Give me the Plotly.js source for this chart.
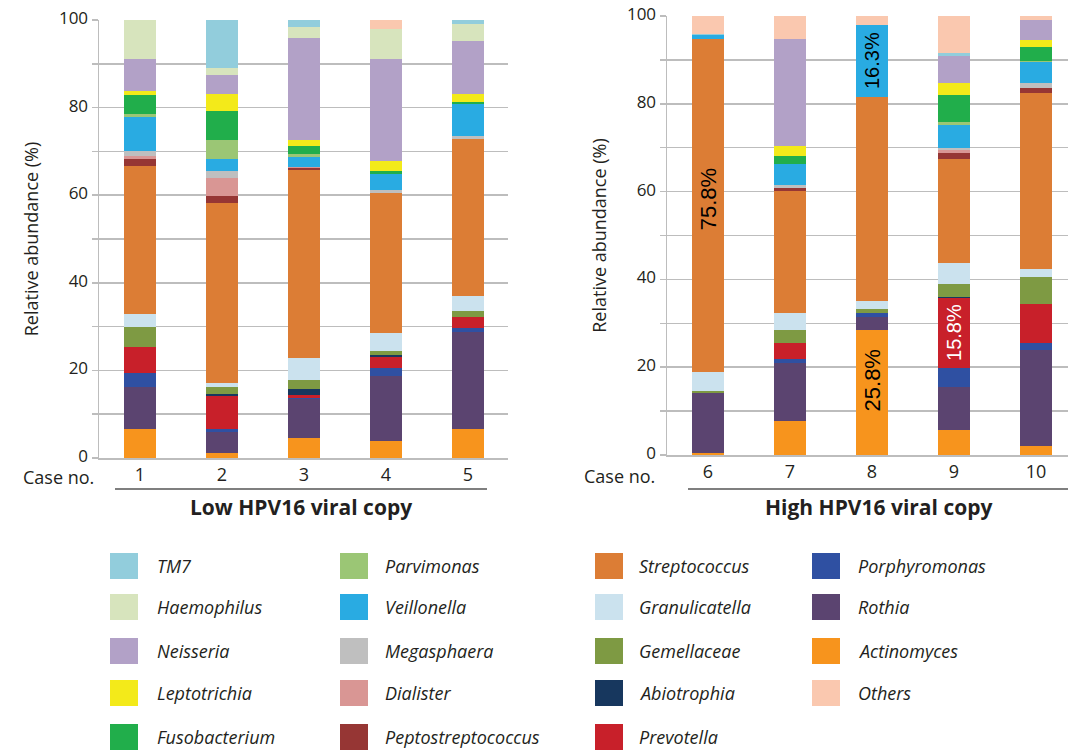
<!DOCTYPE html>
<html><head><meta charset="utf-8">
<script src="https://cdn.plot.ly/plotly-3.0.1.min.js"></script>
<style>html,body{margin:0;padding:0;background:#fff}#chart{width:1068px;height:752px}</style>
</head><body><div id="chart"></div>
<script>
// ---------- DATA (relative abundance %, cases 1..10) ----------
const cases = [1, 2, 3, 4, 5, 6, 7, 8, 9, 10];
const caseLabels = ['1', '2', '3', '4', '5', '6', '7', '8', '9', '10'];
const groupLabels = ['Low HPV16 viral copy', 'High HPV16 viral copy'];

// stacked from bottom to top
const Actinomyces        = [6.6, 1.2, 4.5, 3.9, 6.6, 0.5, 7.8, 28.5, 5.8, 2.0];
const Rothia             = [9.5, 4.7, 8.9, 14.9, 22.2, 13.6, 13.1, 3.0, 9.7, 21.9];
const Porphyromonas      = [3.2, 0.8, 0.4, 1.7, 0.8, 0, 1.0, 0.8, 4.4, 1.6];
const Prevotella         = [6.1, 7.5, 0.6, 2.5, 2.5, 0, 3.6, 0, 15.8, 8.9];
const Abiotrophia        = [0, 0.5, 1.4, 0.6, 0, 0, 0, 0, 0.4, 0];
const Gemellaceae        = [4.6, 1.6, 2.0, 0.9, 1.5, 0.5, 2.9, 0.9, 2.9, 6.1];
const Granulicatella     = [2.8, 0.9, 5.0, 4.0, 3.5, 4.4, 4.0, 1.9, 4.7, 1.8];
const Streptococcus      = [33.9, 41.1, 43.0, 32.1, 35.7, 75.8, 27.8, 46.5, 23.7, 40.2];
const Peptostreptococcus = [1.6, 1.6, 0.3, 0, 0, 0, 0.6, 0, 1.5, 1.2];
const Dialister          = [0.6, 4.0, 0.3, 0, 0, 0, 0, 0, 0.5, 0];
const Megasphaera        = [1.3, 1.7, 0, 0.6, 0.7, 0, 0.8, 0, 0.6, 1.0];
const Veillonella        = [7.7, 2.7, 2.3, 3.7, 7.3, 0.8, 4.6, 16.3, 5.1, 4.8];
const Parvimonas         = [0.6, 4.2, 0.7, 0, 0, 0, 0, 0, 0.7, 0.3];
const Fusobacterium      = [4.3, 6.8, 1.9, 0.6, 0.4, 0, 2.0, 0, 6.3, 3.2];
const Leptotrichia       = [1.1, 3.7, 1.3, 2.3, 1.9, 0, 2.3, 0, 2.6, 1.5];
const Neisseria          = [7.2, 4.4, 23.2, 23.2, 12.0, 0, 24.3, 0, 6.1, 4.5];
const Haemophilus        = [8.9, 1.7, 2.6, 7.0, 4.0, 0, 0, 0, 0, 0];
const TM7                = [0, 10.9, 1.6, 0, 0.9, 0.3, 0, 0, 0.8, 0];
const Others             = [0, 0, 0, 2.0, 0, 4.1, 5.2, 2.1, 8.4, 1.0];

const taxaNames = ['Actinomyces', 'Rothia', 'Porphyromonas', 'Prevotella', 'Abiotrophia',
  'Gemellaceae', 'Granulicatella', 'Streptococcus', 'Peptostreptococcus', 'Dialister',
  'Megasphaera', 'Veillonella', 'Parvimonas', 'Fusobacterium', 'Leptotrichia',
  'Neisseria', 'Haemophilus', 'TM7', 'Others'];
const taxaValues = [Actinomyces, Rothia, Porphyromonas, Prevotella, Abiotrophia,
  Gemellaceae, Granulicatella, Streptococcus, Peptostreptococcus, Dialister,
  Megasphaera, Veillonella, Parvimonas, Fusobacterium, Leptotrichia,
  Neisseria, Haemophilus, TM7, Others];

// highlighted value labels: [taxon, case, text]
const valueLabels = [
  ['Streptococcus', 6, '75.8%'],
  ['Veillonella', 8, '16.3%'],
  ['Actinomyces', 8, '25.8%'],
  ['Prevotella', 9, '15.8%']
];

// ---------- STYLE ----------
const colors = {
  TM7: '#92CDDC', Haemophilus: '#D7E4BD', Neisseria: '#B2A1C7', Leptotrichia: '#F3EA1A',
  Fusobacterium: '#21AE4B', Parvimonas: '#9BC675', Veillonella: '#29ABE2',
  Megasphaera: '#BFBFBF', Dialister: '#D99694', Peptostreptococcus: '#963634',
  Streptococcus: '#DC7D35', Granulicatella: '#CBE2EE', Gemellaceae: '#7E9A43',
  Abiotrophia: '#17375E', Prevotella: '#C8202A', Porphyromonas: '#2F50A2',
  Rothia: '#5B4470', Actinomyces: '#F7941D', Others: '#FAC8AF'
};
const legendColumns = [
  ['TM7', 'Haemophilus', 'Neisseria', 'Leptotrichia', 'Fusobacterium'],
  ['Parvimonas', 'Veillonella', 'Megasphaera', 'Dialister', 'Peptostreptococcus'],
  ['Streptococcus', 'Granulicatella', 'Gemellaceae', 'Abiotrophia', 'Prevotella'],
  ['Porphyromonas', 'Rothia', 'Actinomyces', 'Others']
];

const W = 1068, H = 752;
const px = x => x / W, py = y => 1 - y / H;
const GRID = '#BDBDBD', TXT = '#231F20';
const FONT = 'Open Sans, sans-serif';

// ---------- TRACES ----------
const traces = [];
taxaNames.forEach((name, i) => {
  const vals = taxaValues[i];
  [[0, 5, 'x', 'y'], [5, 10, 'x2', 'y2']].forEach(([a, b, xa, ya]) => {
    traces.push({
      type: 'bar', name: name, x: cases.slice(a, b), y: vals.slice(a, b),
      xaxis: xa, yaxis: ya, width: 0.39,
      marker: {color: colors[name], line: {width: 0}},
      showlegend: false, hovertemplate: name + ': %{y}%<extra>Case %{x}</extra>'
    });
  });
});

// ---------- ANNOTATIONS & SHAPES ----------
const annotations = [];
const shapes = [];

function segMid(taxon, caseNo) {
  const ti = taxaNames.indexOf(taxon), ci = cases.indexOf(caseNo);
  let s = 0;
  for (let k = 0; k < ti; k++) s += taxaValues[k][ci];
  return s + taxaValues[ti][ci] / 2;
}
valueLabels.forEach(([taxon, c, txt]) => {
  annotations.push({
    xref: c <= 5 ? 'x' : 'x2', yref: c <= 5 ? 'y' : 'y2', x: c, y: segMid(taxon, c),
    xanchor: 'center', yanchor: 'middle',
    text: txt, showarrow: false, textangle: -90,
    yshift: taxon === 'Actinomyces' ? 12 : (taxon === 'Streptococcus' ? 6 : 0),
    font: {family: 'Liberation Sans, Arial, sans-serif', size: taxon === 'Streptococcus' || taxon === 'Actinomyces' ? 22 : 20,
           color: taxon === 'Prevotella' ? '#FFFFFF' : '#000000'}
  });
});

// "Case no." labels
[[58, 477], [619, 476]].forEach(([x, y]) => annotations.push({
  xref: 'paper', yref: 'paper', x: px(x), y: py(y), xanchor: 'center', yanchor: 'middle',
  text: 'Case no.', showarrow: false,
  font: {family: FONT, size: 18, color: TXT}
}));
// group labels + separator lines
[[301, 115, 487], [878, 688, 1068]].forEach(([cx, x0, x1], g) => {
  annotations.push({
    xref: 'paper', yref: 'paper', x: px(cx), y: py(507), xanchor: 'center', yanchor: 'middle',
    text: '<b>' + groupLabels[g] + '</b>',
    showarrow: false, font: {family: FONT, size: 21, color: TXT}
  });
  shapes.push({type: 'line', xref: 'paper', yref: 'paper', x0: px(x0), x1: px(x1), y0: py(489), y1: py(489),
    line: {color: '#555555', width: 1.5}});
});

// manual legend (four columns)
const colSwatchX = [110, 340, 595, 812];
const colTextX = [155, 383, 637, 856];
const rowY = [566, 607, 651, 693, 737];
legendColumns.forEach((col, ci) => {
  col.forEach((name, ri) => {
    const y = rowY[ri];
    shapes.push({type: 'rect', xref: 'paper', yref: 'paper',
      x0: px(colSwatchX[ci]), x1: px(colSwatchX[ci] + 28), y0: py(y - 13), y1: py(y + 13),
      fillcolor: colors[name], line: {width: 0}});
    annotations.push({xref: 'paper', yref: 'paper', x: px(colTextX[ci]), y: py(y),
      xanchor: 'left', yanchor: 'middle', text: '<i>' + name + '</i>', showarrow: false,
      font: {family: FONT, size: 18, color: TXT}});
  });
});

// ---------- AXES ----------
const yTickVals = [0, 10, 20, 30, 40, 50, 60, 70, 80, 90, 100];
const yTickText = yTickVals.map(v => v % 20 === 0 ? String(v) : '');
function yAxis(dom) {
  return {
    domain: dom, range: [0, 100], tickvals: yTickVals, ticktext: yTickText,
    ticks: 'outside', ticklen: 6, tickwidth: 1.5, tickcolor: GRID,
    showgrid: true, gridcolor: GRID, gridwidth: 1.5,
    showline: true, linecolor: GRID, linewidth: 1.5, zeroline: false,
    ticklabelshift: -2, ticklabeloverflow: 'allow',
    tickfont: {family: FONT, size: 17, color: TXT},
    title: {text: 'Relative abundance (%)', font: {family: FONT, size: 18, color: TXT}, standoff: 15},
    fixedrange: true
  };
}
function xAxis(dom, range, vals, labels, anchor) {
  return {
    domain: dom, range: range, tickvals: vals, ticktext: labels, ticks: '',
    showline: true, linecolor: GRID, linewidth: 1.5, showgrid: false, zeroline: false,
    tickfont: {family: FONT, size: 18, color: TXT}, anchor: anchor, fixedrange: true
  };
}

const layout = {
  width: W, height: H, margin: {l: 0, r: 0, t: 0, b: 0},
  paper_bgcolor: '#FFFFFF', plot_bgcolor: '#FFFFFF',
  barmode: 'stack', showlegend: false,
  font: {family: FONT, color: TXT},
  xaxis: xAxis([px(99), px(508)], [0.5, 5.49], cases.slice(0, 5), caseLabels.slice(0, 5), 'y'),
  yaxis: Object.assign(yAxis([py(458), py(20)]), {anchor: 'x'}),
  xaxis2: xAxis([px(667), 1], [5.5, 10.39], cases.slice(5), caseLabels.slice(5), 'y2'),
  yaxis2: Object.assign(yAxis([py(455), py(16)]), {anchor: 'x2'}),
  annotations: annotations, shapes: shapes
};

Plotly.newPlot('chart', traces, layout, {displayModeBar: false, staticPlot: true});
</script></body></html>
